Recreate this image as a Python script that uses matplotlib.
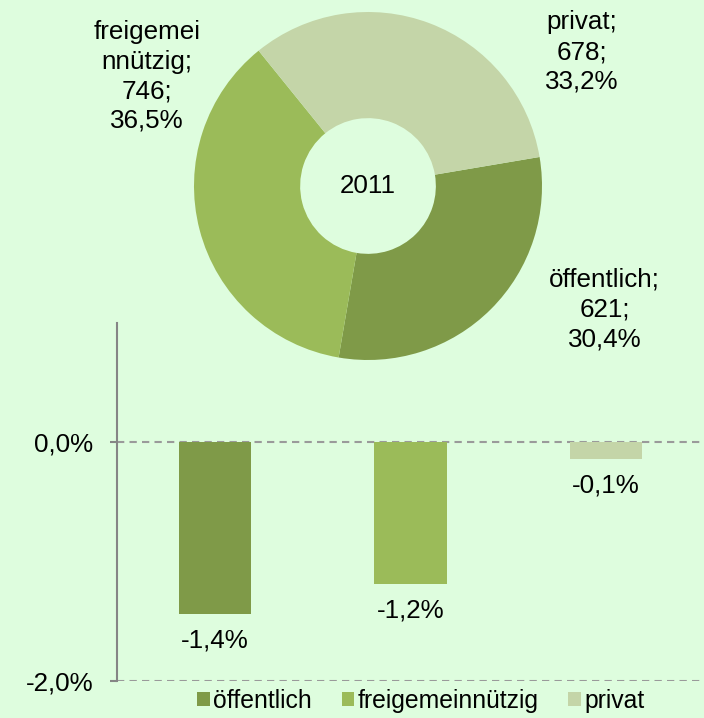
import numpy as np
import matplotlib.pyplot as plt
from matplotlib.ticker import FuncFormatter
from matplotlib.patches import Patch

# Data
categories = ["öffentlich", "freigemeinnützig", "privat"]
counts_2011 = [621, 746, 678]
shares_2011 = [30.4, 36.5, 33.2]
change_pct = [-1.44, -1.19, -0.14]
pie_year = "2011"

colors = ["#7F9A48", "#9BBB59", "#C4D5A8"]
bg = "#DEFDDE"
fs = 18.7

plt.rcParams["font.family"] = ["Liberation Sans", "DejaVu Sans"]
plt.rcParams["font.size"] = fs


def de(x, nd=1):
    return f"{x:.{nd}f}".replace(".", ",")


fig = plt.figure(figsize=(7.04, 7.18), dpi=100, facecolor=bg)

# ---- bar chart (bottom) ----
ax = fig.add_axes([117 / 704, 37 / 718, 587 / 704, 358 / 718])
ax.set_facecolor("none")
x = np.arange(len(categories))
bars = ax.bar(x, change_pct, width=0.37, color=colors, zorder=2)
ax.set_xlim(-0.5, 2.5)
ax.set_ylim(-2, 1)
ax.set_yticks([0, -2])
ax.yaxis.set_major_formatter(FuncFormatter(lambda v, p: de(v) + "%"))
ax.set_xticks([])
for s in ["top", "right", "bottom"]:
    ax.spines[s].set_visible(False)
ax.spines["left"].set_color("#858585")
ax.spines["left"].set_linewidth(1.5)
ax.tick_params(axis="y", length=5, width=1.5, color="#858585", pad=12, labelsize=fs)
ax.grid(axis="y", color="#9A9A9A", linestyle=(0, (3.5, 2.5)), linewidth=1.5, zorder=0)
ax.set_axisbelow(True)
for xi, v in zip(x, change_pct):
    ax.annotate(de(v) + "%", (xi, v), xytext=(0, -19), textcoords="offset points",
                ha="center", va="center", fontsize=fs)

handles = [Patch(facecolor=c, label=l) for c, l in zip(colors, categories)]
fig.legend(handles=handles, loc="center", bbox_to_anchor=(421 / 704, 17 / 718),
           ncol=3, frameon=False, fontsize=17.8, handlelength=0.5, handleheight=0.5,
           handletextpad=0.15, columnspacing=1.2, borderaxespad=0)

# ---- donut (top) ----
pax = fig.add_axes([194 / 704, 358 / 718, 348 / 704, 348 / 718])
pax.set_zorder(3)
pax.set_facecolor("none")
pax.pie(counts_2011, colors=colors, startangle=9.6, counterclock=False,
        radius=1, wedgeprops=dict(width=0.61, linewidth=0))
pax.set_xlim(-1, 1)
pax.set_ylim(-1, 1)
pax.set_aspect("equal")
pax.axis("off")
pax.text(0, 0, pie_year, ha="center", va="center", fontsize=fs)

label_text = [
    f"öffentlich;\n{counts_2011[0]};\n{de(shares_2011[0])}%",
    f"freigemei\nnnützig;\n{counts_2011[1]};\n{de(shares_2011[1])}%",
    f"privat;\n{counts_2011[2]};\n{de(shares_2011[2])}%",
]
label_pos = [(1.36, -0.71), (-1.27, 0.63), (1.23, 0.77)]
for t, (lx, ly) in zip(label_text, label_pos):
    pax.text(lx, ly, t, ha="center", va="center", fontsize=fs, linespacing=1.3)

fig.savefig("out.png", dpi=100, facecolor=bg)
